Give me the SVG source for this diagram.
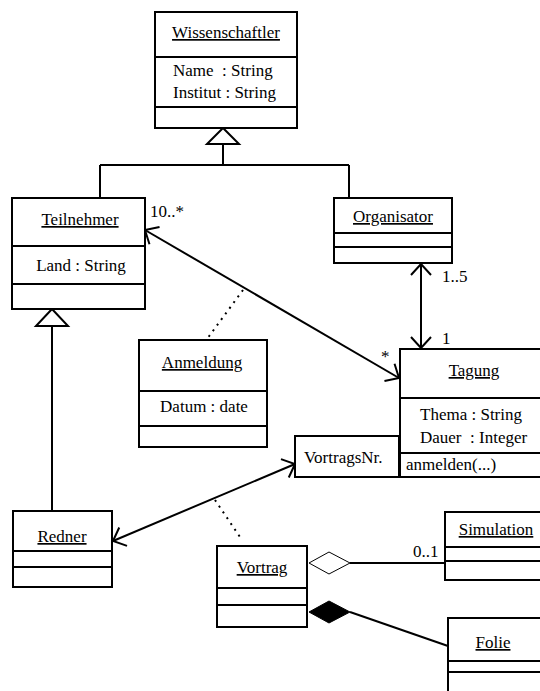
<svg xmlns="http://www.w3.org/2000/svg" width="540" height="691" viewBox="0 0 540 691">
<style>
  .box { fill: #fff; stroke: #000; stroke-width: 2; }
  .ln { stroke: #000; stroke-width: 2; fill: none; }
  .dot { stroke: #000; stroke-width: 2; fill: none; stroke-dasharray: 2 5; }
  text { font-family: "Liberation Serif", "Times New Roman", serif; font-size: 17px; fill: #000; white-space: pre; }
  .t { text-anchor: middle; text-decoration: underline; }
  .m { text-anchor: middle; }
</style>
<defs>
  <marker id="open" markerUnits="userSpaceOnUse" viewBox="-13 -13 16 26" refX="0" refY="0" markerWidth="16" markerHeight="26" orient="auto-start-reverse">
    <path d="M -11 -10 L 0 0 L -11 10" fill="none" stroke="#000" stroke-width="2"/>
  </marker>
</defs>
<rect width="540" height="691" fill="#fff"/>

<g id="connectors">
  <polygon points="223,128 207,144 239,144" fill="#fff" stroke="#000" stroke-width="2"/>
  <path class="ln" d="M223 144 V165 M100 165 H349 M100 165 V198 M349 165 V198"/>
  <polygon points="52,309 36,326 68,326" fill="#fff" stroke="#000" stroke-width="2"/>
  <path class="ln" d="M52 326 V511"/>
  <line class="ln" x1="145" y1="230" x2="399" y2="378" marker-start="url(#open)" marker-end="url(#open)"/>
  <text x="150" y="217">10..*</text>
  <text x="381" y="362">*</text>
  <line class="ln" x1="421" y1="264" x2="421" y2="348" marker-start="url(#open)" marker-end="url(#open)"/>
  <text x="442" y="282">1..5</text>
  <text x="442" y="344">1</text>
  <line class="dot" x1="243" y1="290" x2="207" y2="339"/>
  <line class="ln" x1="113" y1="541" x2="295" y2="464" marker-start="url(#open)" marker-end="url(#open)"/>
  <line class="dot" x1="215" y1="500" x2="242" y2="540"/>
  <polygon points="309,563 329,552 350,563 329,574" fill="#fff" stroke="#000" stroke-width="1"/>
  <line class="ln" x1="350" y1="563" x2="445" y2="563"/>
  <text x="413" y="557">0..1</text>
  <polygon points="309,612 329,601 350,612 329,623" fill="#000" stroke="#000" stroke-width="1"/>
  <line class="ln" x1="350" y1="612" x2="448" y2="646"/>
</g>

<g id="Wissenschaftler">
  <rect class="box" x="155" y="12" width="142" height="116"/>
  <path class="ln" d="M155 57 H297 M155 107 H297"/>
  <text class="t" x="226" y="38">Wissenschaftler</text>
  <text x="173" y="76">Name  : String</text>
  <text x="173" y="98">Institut : String</text>
</g>

<g id="Teilnehmer">
  <rect class="box" x="12" y="198" width="133" height="111"/>
  <path class="ln" d="M12 246 H145 M12 284 H145"/>
  <text class="t" x="80" y="225">Teilnehmer</text>
  <text class="m" x="81" y="271">Land : String</text>
</g>

<g id="Organisator">
  <rect class="box" x="334" y="198" width="118" height="65"/>
  <path class="ln" d="M334 233 H452 M334 247 H452"/>
  <text class="t" x="393" y="222">Organisator</text>
</g>

<g id="Anmeldung">
  <rect class="box" x="139" y="340" width="128" height="107"/>
  <path class="ln" d="M139 391 H267 M139 426 H267"/>
  <text class="t" x="202" y="368">Anmeldung</text>
  <text class="m" x="204" y="412">Datum : date</text>
</g>

<g id="Tagung">
  <rect class="box" x="400" y="349" width="150" height="128"/>
  <path class="ln" d="M400 398 H550 M400 453 H550"/>
  <text class="t" x="474" y="376">Tagung</text>
  <text x="420" y="420">Thema : String</text>
  <text x="420" y="443">Dauer  : Integer</text>
  <text x="406" y="470">anmelden(...)</text>
</g>

<g id="VortragsNr">
  <rect class="box" x="295" y="436" width="104" height="41"/>
  <text x="304" y="463">VortragsNr.</text>
</g>

<g id="Redner">
  <rect class="box" x="13" y="511" width="99" height="76"/>
  <path class="ln" d="M13 551 H112 M13 567 H112"/>
  <text class="t" x="62" y="542">Redner</text>
</g>

<g id="Vortrag">
  <rect class="box" x="217" y="546" width="90" height="81"/>
  <path class="ln" d="M217 588 H307 M217 605 H307"/>
  <text class="t" x="262" y="573">Vortrag</text>
</g>

<g id="Simulation">
  <rect class="box" x="445" y="512" width="105" height="68"/>
  <path class="ln" d="M445 547 H550 M445 561 H550"/>
  <text class="t" x="496" y="535">Simulation</text>
</g>

<g id="Folie">
  <rect class="box" x="448" y="618" width="102" height="90"/>
  <path class="ln" d="M448 661 H550 M448 672 H550"/>
  <text class="t" x="493" y="648">Folie</text>
</g>
</svg>
